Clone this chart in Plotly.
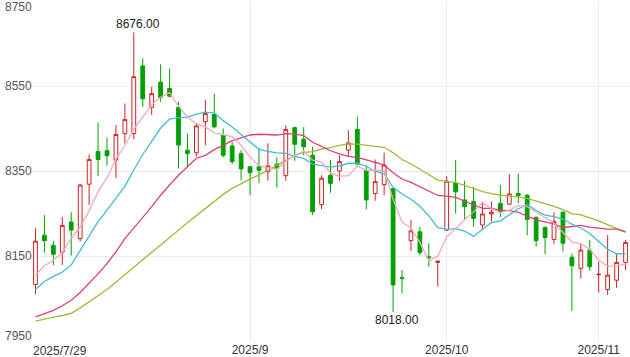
import plotly.graph_objects as go
import pandas as pd

dates = [
    "2025-07-29", "2025-07-30", "2025-07-31",
    "2025-08-01", "2025-08-04", "2025-08-05", "2025-08-06", "2025-08-07", "2025-08-08",
    "2025-08-11", "2025-08-12", "2025-08-13", "2025-08-14", "2025-08-15",
    "2025-08-18", "2025-08-19", "2025-08-20", "2025-08-21", "2025-08-22",
    "2025-08-25", "2025-08-26", "2025-08-27", "2025-08-28", "2025-08-29",
    "2025-09-01", "2025-09-02", "2025-09-03", "2025-09-04", "2025-09-05",
    "2025-09-08", "2025-09-09", "2025-09-10", "2025-09-11", "2025-09-12",
    "2025-09-15", "2025-09-16", "2025-09-17", "2025-09-18", "2025-09-19",
    "2025-09-22", "2025-09-23", "2025-09-24", "2025-09-25", "2025-09-26",
    "2025-09-29", "2025-09-30",
    "2025-10-09", "2025-10-10",
    "2025-10-13", "2025-10-14", "2025-10-15", "2025-10-16", "2025-10-17",
    "2025-10-20", "2025-10-21", "2025-10-22", "2025-10-23", "2025-10-24",
    "2025-10-27", "2025-10-28", "2025-10-29", "2025-10-30", "2025-10-31",
    "2025-11-03", "2025-11-04", "2025-11-05", "2025-11-06",
]

opens = [8083, 8199, 8175, 8159, 8230, 8191, 8319, 8396, 8398, 8376,
         8438, 8438, 8597, 8500, 8559, 8544, 8500, 8399, 8393, 8466,
         8483, 8434, 8409, 8391, 8360, 8360, 8348, 8366, 8339, 8452,
         8425, 8387, 8271, 8340, 8350, 8399, 8448, 8351, 8297, 8318,
         8309, 8099, 8186, 8207, 8148, 8135, 8211, 8322, 8282, 8278,
         8223, 8249, 8274, 8272, 8297, 8293, 8241, 8217, 8189, 8253,
         8147, 8121, 8164, 8106, 8071, 8093, 8135]
highs = [8215, 8246, 8185, 8242, 8253, 8320, 8389, 8464, 8428, 8458,
         8509, 8676, 8615, 8548, 8601, 8591, 8513, 8438, 8462, 8518,
         8532, 8450, 8419, 8399, 8362, 8403, 8415, 8382, 8458, 8454,
         8453, 8407, 8340, 8376, 8387, 8446, 8478, 8364, 8377, 8393,
         8310, 8117, 8235, 8219, 8180, 8138, 8338, 8376, 8327, 8313,
         8278, 8278, 8317, 8343, 8344, 8295, 8243, 8220, 8253, 8255,
         8156, 8178, 8188, 8137, 8199, 8154, 8188]
lows = [8060, 8158, 8129, 8129, 8151, 8184, 8270, 8338, 8363, 8333,
        8415, 8425, 8501, 8482, 8513, 8523, 8356, 8360, 8384, 8411,
        8450, 8382, 8366, 8329, 8293, 8322, 8327, 8311, 8327, 8374,
        8387, 8246, 8260, 8299, 8327, 8384, 8366, 8260, 8280, 8293,
        8018, 8062, 8162, 8152, 8125, 8078, 8209, 8250, 8236, 8219,
        8211, 8231, 8242, 8270, 8274, 8199, 8172, 8154, 8178, 8160,
        8021, 8097, 8115, 8064, 8058, 8075, 8117]
closes = [8185, 8186, 8154, 8222, 8211, 8317, 8377, 8377, 8386, 8436,
          8471, 8572, 8520, 8532, 8523, 8526, 8411, 8391, 8456, 8485,
          8454, 8387, 8372, 8355, 8346, 8352, 8362, 8356, 8448, 8413,
          8407, 8254, 8333, 8321, 8372, 8416, 8366, 8282, 8325, 8364,
          8082, 8097, 8209, 8158, 8146, 8138, 8326, 8301, 8266, 8238,
          8249, 8253, 8254, 8296, 8292, 8236, 8186, 8193, 8231, 8180,
          8127, 8164, 8125, 8107, 8105, 8135, 8182]

# Moving-average values at the start of the window (their periods begin before
# the first visible day)
ma5_head = [8104, 8127, 8140, 8158]
ma10_head = [8072, 8090, 8102, 8112, 8129, 8164, 8199, 8231, 8258]
ma20_head = [8007, 8014, 8022, 8033, 8046, 8064, 8085, 8108, 8132, 8160,
             8191, 8215, 8241, 8266, 8293, 8317, 8340, 8360, 8380]
ma30_head = [7997, 8002, 8006, 8010, 8015, 8028, 8042, 8056, 8071, 8088,
             8106, 8125, 8142, 8159, 8176, 8194, 8211, 8228, 8245, 8262,
             8279, 8295, 8309, 8321, 8331, 8341, 8352, 8363, 8375]

y_ticks = [7950, 8150, 8350, 8550, 8750]
x_tick_dates = ["2025-09-01", "2025-10-09", "2025-11-03"]
x_tick_text = ["2025/9", "2025/10", "2025/11"]
first_label = "2025/7/29"


def moving_average(head, period):
    rolled = pd.Series(closes, dtype=float).rolling(period).mean().tolist()
    return list(head) + rolled[len(head):]


ma_series = [
    (moving_average(ma30_head, 30), "#9fba3c"),
    (moving_average(ma20_head, 20), "#de3f78"),
    (moving_average(ma10_head, 10), "#3fbdd0"),
    (moving_average(ma5_head, 5), "#f4a9ba"),
]

RED = "#cc2222"
GREEN = "#00a000"

fig = go.Figure()
fig.add_trace(go.Candlestick(
    x=dates, open=opens, high=highs, low=lows, close=closes,
    increasing=dict(line=dict(color=RED, width=1), fillcolor="#ffffff"),
    decreasing=dict(line=dict(color=GREEN, width=1), fillcolor=GREEN),
    whiskerwidth=0, hoverinfo="skip", showlegend=False,
))
for vals, col in ma_series:
    fig.add_trace(go.Scatter(
        x=dates, y=vals, mode="lines",
        line=dict(color=col, width=1.3),
        hoverinfo="skip", showlegend=False,
    ))

font_family = "Liberation Sans, Arial, sans-serif"
annotations = []
# y-axis labels
for v in y_ticks:
    shift = 0
    if v == y_ticks[-1]:
        shift = -6
    elif v == y_ticks[0]:
        shift = 5
    annotations.append(dict(
        xref="paper", x=0, xanchor="left", xshift=-28,
        yref="y", y=v, yanchor="middle", yshift=shift,
        text=str(v), showarrow=False,
        font=dict(size=12, color="#555555", family=font_family),
    ))
# first date label (left aligned at plot edge)
annotations.append(dict(
    xref="paper", x=0, xanchor="left", xshift=0,
    yref="paper", y=0, yanchor="top", yshift=-1,
    text=first_label, showarrow=False,
    font=dict(size=12, color="#333333", family=font_family),
))
# max / min markers
i_max = highs.index(max(highs))
i_min = lows.index(min(lows))
annotations.append(dict(
    x=dates[i_max], y=highs[i_max], xref="x", yref="y",
    xanchor="center", yanchor="middle", xshift=4, yshift=8,
    text=f"{highs[i_max]:.2f}", showarrow=False,
    font=dict(size=12, color="#222222", family=font_family),
))
annotations.append(dict(
    x=dates[i_min], y=lows[i_min], xref="x", yref="y",
    xanchor="center", yanchor="middle", xshift=4, yshift=-8,
    text=f"{lows[i_min]:.2f}", showarrow=False,
    font=dict(size=12, color="#222222", family=font_family),
))

fig.update_layout(
    width=630, height=357,
    margin=dict(l=31, r=0, t=1, b=16),
    paper_bgcolor="#ffffff", plot_bgcolor="#ffffff",
    boxgap=0.4,
    hovermode=False,
    annotations=annotations,
    xaxis=dict(
        type="category", categoryorder="array", categoryarray=dates,
        range=[-0.5, len(dates) - 0.5],
        rangeslider=dict(visible=False),
        tickmode="array", tickvals=x_tick_dates, ticktext=x_tick_text,
        showgrid=True, gridcolor="#ebebeb", gridwidth=1,
        showline=False, zeroline=False, ticks="",
        ticklabelstandoff=0,
        tickfont=dict(size=12, color="#333333", family=font_family),
    ),
    yaxis=dict(
        range=[y_ticks[0], y_ticks[-1]],
        tickmode="array", tickvals=y_ticks, showticklabels=False,
        showgrid=True, gridcolor="#ebebeb", gridwidth=1,
        showline=False, zeroline=False, ticks="",
    ),
)

fig.write_html(
    "out.html",
    config={"displayModeBar": False, "staticPlot": True},
    post_script="document.body.style.margin='0';document.body.style.overflow='hidden';",
)
